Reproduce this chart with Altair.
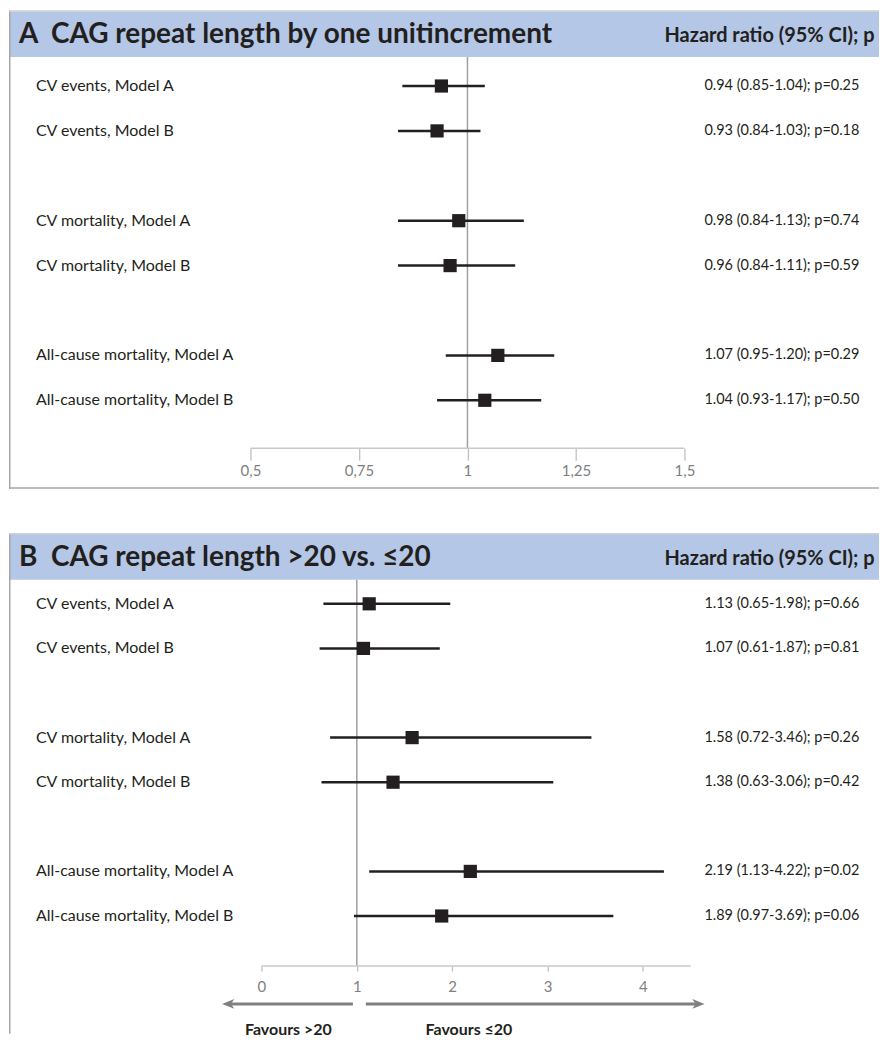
import altair as alt
import pandas as pd

# ---------------- data ----------------
labels = ["CV events, Model A", "CV events, Model B",
          "CV mortality, Model A", "CV mortality, Model B",
          "All-cause mortality, Model A", "All-cause mortality, Model B"]
slots = [0, 1, 3, 4, 6, 7]

a_hr = [0.94, 0.93, 0.98, 0.96, 1.07, 1.04]
a_lo = [0.85, 0.84, 0.84, 0.84, 0.95, 0.93]
a_hi = [1.04, 1.03, 1.13, 1.11, 1.20, 1.17]
a_p = ["0.25", "0.18", "0.74", "0.59", "0.29", "0.50"]

b_hr = [1.13, 1.07, 1.58, 1.38, 2.19, 1.89]
b_lo = [0.65, 0.61, 0.72, 0.63, 1.13, 0.97]
b_hi = [1.98, 1.87, 3.46, 3.06, 4.22, 3.69]
b_p = ["0.66", "0.81", "0.26", "0.42", "0.02", "0.06"]

a_ticks = [0.5, 0.75, 1, 1.25, 1.5]
b_ticks = [0, 1, 2, 3, 4]

title_a = "A\u00a0\u00a0CAG repeat length by one unitincrement"
title_b = "B\u00a0\u00a0CAG repeat length >20 vs. \u226420"
header = "Hazard ratio (95% CI); p"
fav_left = "Favours >20"
fav_right = "Favours \u226420"

# ---------------- style ----------------
FONT = "Lato"
DARK = "#231f20"
GRAY_BORDER = "#a6a6a6"
BAR_BLUE = "#b4c7e7"
W = 872


def make_df(hr, lo, hi, p):
    return pd.DataFrame({
        "label": labels,
        "slot": slots,
        "hr": hr,
        "lo": lo,
        "hi": hi,
        "ann": [f"{h:.2f} ({l:.2f}-{u:.2f}); p={pp}" for h, l, u, pp in zip(hr, lo, hi, p)],
    })


one = pd.DataFrame({"k": [0]})


def panel(df, title, xdomain, ydomain, height, ticks, tick_size, label_pad, axis_y,
          axis_from, axis_to, bottom_border, extras=None):
    xs = alt.Scale(domain=xdomain, nice=False, zero=False)
    ys = alt.Scale(domain=ydomain, nice=False, zero=False, reverse=True)
    axis = alt.Axis(values=ticks,
                    labelExpr="replace(format(datum.value, '~g'), '.', ',')",
                    domain=False, grid=False, ticks=True, tickSize=tick_size,
                    tickColor="#bfbfbf", tickWidth=1.3, labelColor="#7f7f7f",
                    labelFontSize=15, labelFont=FONT, labelPadding=label_pad,
                    labelFlush=False, labelOverlap=False,
                    offset=-(height - axis_y), title=None, orient="bottom")

    base = alt.Chart(one)
    layers = []
    # title bar
    layers.append(base.mark_rect(color=BAR_BLUE).encode(
        x=alt.value(0), x2=alt.value(W), y=alt.value(1), y2=alt.value(47)))
    # borders
    layers.append(base.mark_rule(color=GRAY_BORDER, strokeWidth=1.5).encode(
        x=alt.value(0.75), y=alt.value(0), y2=alt.value(height)))
    layers.append(base.mark_rule(color="#d0d0d0", strokeWidth=1.5).encode(
        x=alt.value(0), x2=alt.value(W), y=alt.value(0.75)))
    if bottom_border:
        layers.append(base.mark_rule(color=GRAY_BORDER, strokeWidth=1.5).encode(
            x=alt.value(0), x2=alt.value(W), y=alt.value(height - 1)))
    # title texts
    layers.append(base.mark_text(align="left", baseline="middle", font=FONT,
                                 fontSize=28, fontWeight="bold", color=DARK).encode(
        x=alt.value(10), y=alt.value(25), text=alt.value(title)))
    layers.append(base.mark_text(align="left", baseline="middle", font=FONT,
                                 fontSize=20, fontWeight="bold", color=DARK).encode(
        x=alt.value(657), y=alt.value(26), text=alt.value(header)))
    # reference line at 1
    layers.append(base.mark_rule(color="#a0a0a0", strokeWidth=1.5).encode(
        x=alt.X(datum=1, type="quantitative", scale=xs), y=alt.value(47), y2=alt.value(axis_y)))
    # axis domain line
    layers.append(base.mark_rule(color="#c8c8c8", strokeWidth=1.5).encode(
        x=alt.X(datum=axis_from, type="quantitative", scale=xs),
        x2=alt.X2(datum=axis_to), y=alt.value(axis_y)))

    pts = alt.Chart(df)
    # confidence intervals (carries the axis)
    layers.append(pts.mark_rule(color=DARK, strokeWidth=2.5).encode(
        x=alt.X("lo:Q", scale=xs, axis=axis),
        x2="hi:Q",
        y=alt.Y("slot:Q", scale=ys, axis=None)))
    # point estimates
    layers.append(pts.mark_square(size=175, color=DARK, opacity=1).encode(
        x=alt.X("hr:Q", scale=xs),
        y=alt.Y("slot:Q", scale=ys)))
    # row labels
    layers.append(pts.mark_text(align="left", baseline="middle", font=FONT,
                                fontSize=16, color=DARK).encode(
        x=alt.value(27), y=alt.Y("slot:Q", scale=ys), text="label:N"))
    # annotations
    layers.append(pts.mark_text(align="left", baseline="middle", font=FONT,
                                fontSize=14.5, color=DARK).encode(
        x=alt.value(697), y=alt.Y("slot:Q", scale=ys), text="ann:N"))
    if extras:
        layers.extend(extras)
    return alt.layer(*layers).properties(width=W, height=height)


df_a = make_df(a_hr, a_lo, a_hi, a_p)
df_b = make_df(b_hr, b_lo, b_hi, b_p)

HA = 480
HB = 502

# x domains chosen so that panel A: 0.5 -> 242 px, 435 px/unit; panel B: 0 -> 253 px, 95.6 px/unit
xa = [0.5 - 242 / 435, 0.5 - 242 / 435 + W / 435]
xb = [-253 / 95.6, -253 / 95.6 + W / 95.6]
ya = [-76 / 45, (HA - 76) / 45]
yb = [-71 / 44.7, (HB - 71) / 44.7]

ARROW_GRAY = "#7f7f7f"
one2 = alt.Chart(one)
arrow_y = 472
extras_b = [
    one2.mark_rule(color=ARROW_GRAY, strokeWidth=3).encode(
        x=alt.value(219), x2=alt.value(344.7), y=alt.value(arrow_y)),
    one2.mark_rule(color=ARROW_GRAY, strokeWidth=3).encode(
        x=alt.value(357.7), x2=alt.value(692), y=alt.value(arrow_y)),
    one2.mark_point(shape="M -1 0 L 1 -0.8 L 0.45 0 L 1 0.8 Z", filled=True,
                    size=150, color=ARROW_GRAY, opacity=1).encode(
        x=alt.value(219.7), y=alt.value(arrow_y)),
    one2.mark_point(shape="M 1 0 L -1 -0.8 L -0.45 0 L -1 0.8 Z", filled=True,
                    size=150, color=ARROW_GRAY, opacity=1).encode(
        x=alt.value(691), y=alt.value(arrow_y)),
    one2.mark_text(align="center", baseline="middle", font=FONT, fontSize=16,
                   fontWeight="bold", color=DARK).encode(
        x=alt.value(280), y=alt.value(498), text=alt.value(fav_left)),
    one2.mark_text(align="center", baseline="middle", font=FONT, fontSize=16,
                   fontWeight="bold", color=DARK).encode(
        x=alt.value(461), y=alt.value(498), text=alt.value(fav_right)),
]

pa = panel(df_a, title_a, xa, ya, HA, a_ticks, 12, 3, 439, 0.5, 1.5, True)
pb = panel(df_b, title_b, xb, yb, HB, b_ticks, 5, 9, 434, 0, 4.5, False, extras_b)

chart = alt.vconcat(pa, pb, spacing=42).properties(padding=0).configure_view(stroke=None)

chart.save("out.html", embed_options={"renderer": "svg", "actions": False})
